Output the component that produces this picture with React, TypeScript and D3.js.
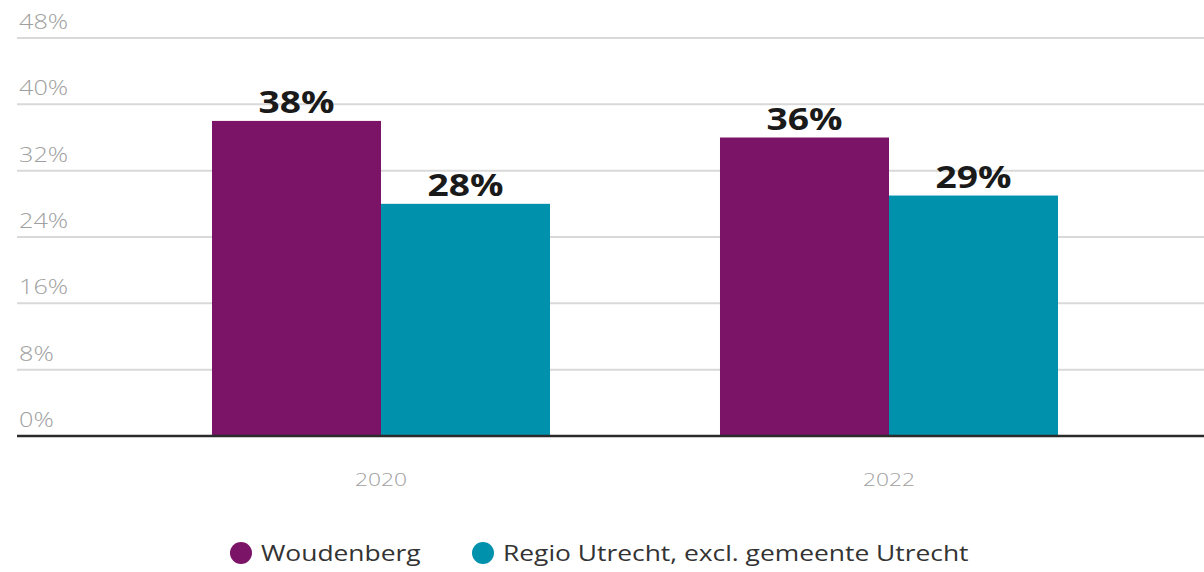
import React from "react";
import * as d3 from "d3";

const categories = ["2020", "2022"];
const seriesNames = ["Woudenberg", "Regio Utrecht, excl. gemeente Utrecht"];
const woudenberg = [38, 36];
const regio = [28, 29];
const yTicks = [0, 8, 16, 24, 32, 40, 48];
const colors = ["#7b1467", "#0091ad"];

const W = 1204;
const H = 572;
const SX = 1.2;

export default function App() {
  const values = [woudenberg, regio];
  const y = d3.scaleLinear().domain([0, 48]).range([436, 38]);
  const x0 = d3
    .scaleBand<string>()
    .domain(categories)
    .range([66, 1204])
    .paddingInner(0.3346)
    .paddingOuter(0.2874);
  const x1 = d3
    .scaleBand<string>()
    .domain(seriesNames)
    .range([0, x0.bandwidth()])
    .padding(0);

  const font = "'Open Sans', 'Noto Sans', sans-serif";
  const tr = (x: number, yy: number) => `translate(${x},${yy}) scale(${SX},1)`;

  return (
    <svg
      width={W}
      height={H}
      style={{ position: "absolute", left: 0, top: 0, background: "#fff" }}
    >
      {yTicks.map((t) => (
        <g key={t}>
          {t !== 0 && (
            <line x1={17} x2={W} y1={y(t)} y2={y(t)} stroke="#d9d9d9" strokeWidth={2} />
          )}
          <text
            transform={tr(19, y(t) - 9)}
            fontFamily={font}
            fontSize={21}
            fontWeight={300}
            fill="#a0a0a0"
          >
            {t}%
          </text>
        </g>
      ))}
      {categories.map((c, i) => (
        <g key={c} transform={`translate(${x0(c)},0)`}>
          {seriesNames.map((s, j) => {
            const v = values[j][i];
            const bx = x1(s)!;
            return (
              <g key={s}>
                <rect
                  x={bx}
                  y={y(v)}
                  width={x1.bandwidth()}
                  height={y(0) - y(v)}
                  fill={colors[j]}
                />
                <text
                  transform={tr(bx + x1.bandwidth() / 2, y(v) - 8)}
                  textAnchor="middle"
                  fontFamily={font}
                  fontSize={31}
                  fontWeight={700}
                  fill="#1a1a1a"
                >
                  {v}%
                </text>
              </g>
            );
          })}
          <text
            transform={tr(x0.bandwidth() / 2, 486)}
            textAnchor="middle"
            fontFamily={font}
            fontSize={19}
            fontWeight={300}
            fill="#a0a0a0"
          >
            {c}
          </text>
        </g>
      ))}
      <line x1={17} x2={W} y1={y(0)} y2={y(0)} stroke="#2b2b2b" strokeWidth={2.5} />
      {seriesNames.map((s, j) => {
        const cx = j === 0 ? 241 : 483;
        return (
          <g key={s}>
            <circle cx={cx} cy={553} r={11} fill={colors[j]} />
            <text
              transform={tr(cx + 20, 561)}
              fontFamily={font}
              fontSize={22}
              fill="#333"
            >
              {s}
            </text>
          </g>
        );
      })}
    </svg>
  );
}
